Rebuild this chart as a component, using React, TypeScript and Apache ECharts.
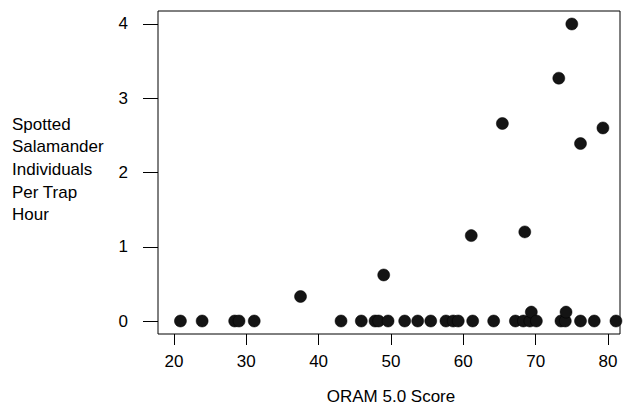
import React, { useEffect, useRef } from "react";
import * as echarts from "echarts";

// ORAM 5.0 score (x) and spotted salamander individuals per trap hour (y)
const oramScores: number[] = [
  20.9, 23.9, 28.4, 29.0, 31.1, 37.5, 43.1, 45.9, 47.8, 48.3, 49.0, 49.6, 51.9, 53.7, 55.5,
  57.6, 58.6, 59.3, 61.1, 61.3, 64.2, 65.4, 67.2, 68.3, 68.5, 69.2, 69.4, 70.1, 73.2, 73.5,
  74.1, 74.2, 75.0, 76.2, 76.2, 78.1, 79.3, 81.1,
];
const salamanderRates: number[] = [
  0, 0, 0, 0, 0, 0.33, 0, 0, 0, 0, 0.62, 0, 0, 0, 0,
  0, 0, 0, 1.15, 0, 0, 2.66, 0, 0, 1.2, 0, 0.12, 0, 3.27, 0,
  0, 0.12, 4.0, 2.39, 0, 0, 2.6, 0,
];
const xTickValues: number[] = [20, 30, 40, 50, 60, 70, 80];
const yTickValues: number[] = [0, 1, 2, 3, 4];
const xTitle = "ORAM 5.0 Score";
const yTitleLines: string[] = ["Spotted", "Salamander", "Individuals", "Per Trap", "Hour"];

const FONT = "Liberation Sans";
const FS = 17;

export default function App() {
  const ref = useRef<HTMLDivElement>(null);
  useEffect(() => {
    if (!ref.current) return;
    const chart = echarts.init(ref.current, null, { renderer: "svg" });
    const points = oramScores.map((x, i) => [x, salamanderRates[i]]);
    chart.setOption({
      animation: false,
      backgroundColor: "#ffffff",
      textStyle: { fontFamily: FONT },
      grid: {
        left: 158,
        top: 11,
        width: 462,
        height: 323,
        show: true,
        borderColor: "#000",
        borderWidth: 1,
        backgroundColor: "transparent",
      },
      xAxis: {
        type: "value",
        min: 17.8,
        max: 81.66,
        splitLine: { show: false },
        axisLine: { show: false, onZero: false },
        axisTick: {
          show: true,
          length: 11,
          customValues: xTickValues,
          lineStyle: { color: "#000", width: 1 },
        },
        axisLabel: {
          show: true,
          customValues: xTickValues,
          margin: 19,
          color: "#000",
          fontSize: FS,
          fontFamily: FONT,
        },
      },
      yAxis: {
        type: "value",
        min: -0.175,
        max: 4.175,
        splitLine: { show: false },
        axisLine: { show: false, onZero: false },
        axisTick: {
          show: true,
          length: 15,
          customValues: yTickValues,
          lineStyle: { color: "#000", width: 1 },
        },
        axisLabel: {
          show: true,
          customValues: yTickValues,
          margin: 30,
          color: "#000",
          fontSize: FS,
          fontFamily: FONT,
        },
      },
      graphic: [
        {
          type: "text",
          left: 12,
          top: 113,
          style: {
            text: yTitleLines.join("\n"),
            fontFamily: FONT,
            fontSize: FS,
            lineHeight: 22.6,
            fill: "#000",
          },
        },
        {
          type: "text",
          x: 391,
          y: 396,
          style: {
            text: xTitle,
            fontFamily: FONT,
            fontSize: FS,
            fill: "#000",
            align: "center",
            verticalAlign: "middle",
          },
        },
      ],
      series: [
        {
          type: "scatter",
          data: points,
          symbol: "circle",
          symbolSize: 12,
          itemStyle: { color: "#141414", opacity: 1, borderColor: "#000", borderWidth: 0.5 },
        },
      ],
    });
    return () => chart.dispose();
  }, []);
  return (
    <div
      ref={ref}
      style={{ position: "absolute", left: 0, top: 0, width: 629, height: 407 }}
    />
  );
}
